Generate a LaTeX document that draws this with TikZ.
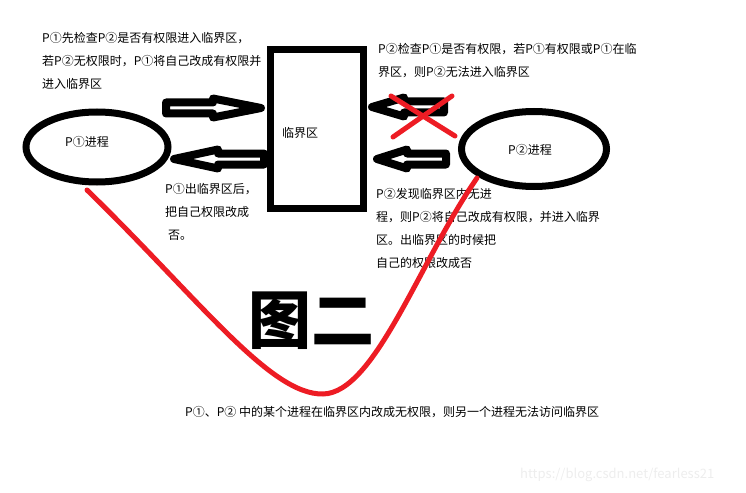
\documentclass[tikz,border=0pt]{standalone}
\usepackage{fontspec}
\newfontfamily\cjk{Noto Sans CJK SC}
\usetikzlibrary{shapes.geometric}
\definecolor{paintred}{RGB}{237,28,36}

\tikzset{
	proc/.style = {ellipse, draw, line width = 7pt, inner sep = 0pt},
	critbox/.style = {rectangle, draw, line width = 7pt, minimum width = 93pt, minimum height = 158pt},
	fatarrow/.style = {draw, fill = white, line width = 8pt, line join = round},
	note/.style = {align = left, anchor = west, inner sep = 0pt},
	redstroke/.style = {draw = paintred, line width = 5pt, line cap = round}
}

\begin{document}
\begin{tikzpicture}[x = 1pt, y = -1pt, font = \cjk\fontsize{12}{23}\selectfont]

	\useasboundingbox (0, 0) rectangle (746, 492);

	% Processes and critical region

	\node [proc, minimum width = 142pt, minimum height = 70pt] (pone) at (97, 147) {};
	\node [proc, minimum width = 145pt, minimum height = 75pt] (ptwo) at (534, 149) {};
	\node [critbox] (crit) at (317, 129) {};

	\node (ponelabel) at (87, 142) {P①进程};
	\node (ptwolabel) at (530, 150) {P②进程};
	\node (critlabel) at (300, 133) {临界区};

	% Fat arrows: tip x / tip y / direction / length / head length

	\foreach \tx/\ty/\d/\len/\hd in {261/108/1/95/48, 174/159/-1/90/44, 372/107/-1/72/32, 377/159/-1/69/30}
		\draw [fatarrow] (\tx, \ty) -- ++({\d * -\hd}, -9.5) -- ++(0, 4) -- ++({\d * (\hd - \len)}, 0)
			-- ++(0, 11) -- ++({\d * (\len - \hd)}, 0) -- ++(0, 4) -- cycle;

	% Notes

	\node [note] (noteLeftTop) at (42, 61) {P①先检查P②是否有权限进入临界区，\\若P②无权限时，P①将自己改成有权限并\\进入临界区};
	\node [note] (noteRightTop) at (378, 61) {P②检查P①是否有权限，若P①有权限或P①在临\\界区，则P②无法进入临界区};
	\node [note] (noteLeftMid) at (165, 212) {P①出临界区后，\\把自己权限改成\\\hspace{3pt}否。};
	\node [note] (noteRightMid) at (376, 228) {P②发现临界区内无进\\程，则P②将自己改成有权限，并进入临界\\区。出临界区的时候把\\自己的权限改成否};
	\node [note] (noteBottom) at (185, 412) {P①、P② 中的某个进程在临界区内改成无权限，则另一个进程无法访问临界区};

	\node [font = \cjk\bfseries\fontsize{63}{63}\selectfont] (title) at (311, 321) {图二};

	\node [note, text = black!7, font = \cjk\fontsize{13}{13}\selectfont] (mark) at (520, 475) {https://blog.csdn.net/fearless21};

	% Red strokes

	\draw [redstroke] (391, 96) -- (455, 136);
	\draw [redstroke] (452, 96) -- (393, 137);

	\coordinate (redstart) at (87, 190);
	\coordinate (redend) at (477, 178);
	\draw [redstroke] (redstart) .. controls (200, 300) and (270, 395) .. (323, 394)
		.. controls (375, 393) and (420, 260) .. (redend);

\end{tikzpicture}
\end{document}
